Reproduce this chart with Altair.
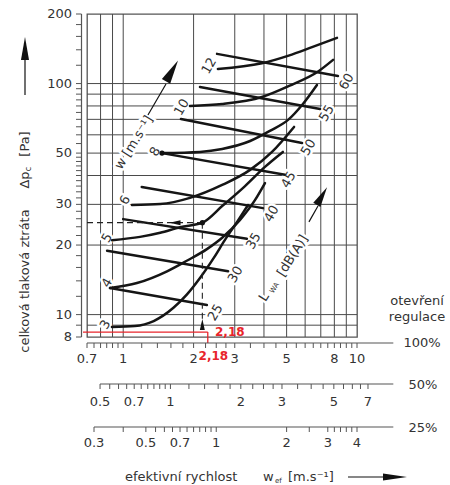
import altair as alt
import pandas as pd

# ------------------------------------------------------------------ data
# constant face-velocity curves w [m.s-1]; x = effective velocity w_ef [m.s-1], y = pressure loss [Pa]
w_names = ["3", "4", "5", "6", "8", "10", "12"]
w3_x = [0.895, 1.12, 1.35, 1.64, 1.87, 2.13, 2.44, 2.72, 3.07, 3.42]
w3_y = [8.84, 8.93, 9.38, 10.7, 12.2, 14.4, 17.6, 21.0, 25.2, 29.8]
w4_x = [0.878, 1.145, 1.54, 1.87, 2.28, 2.65, 3.16, 3.66, 4.04]
w4_y = [13.04, 13.7, 15.4, 17.1, 19.2, 21.5, 25.7, 31.3, 37.1]
w5_x = [0.895, 1.18, 1.44, 1.75, 2.18, 2.65, 3.32, 4.04, 4.82]
w5_y = [21.0, 21.7, 22.6, 23.9, 25.0, 29.5, 36.0, 43.6, 50.6]
w6_x = [1.09, 1.44, 1.93, 2.65, 3.49, 4.33, 5.38]
w6_y = [29.8, 30.1, 32.0, 36.4, 42.3, 50.6, 64.9]
w8_x = [1.465, 2.13, 2.65, 3.49, 4.24, 5.07, 5.87, 6.74]
w8_y = [50.0, 50.6, 52.1, 56.4, 62.4, 69.6, 81.6, 98.6]
w10_x = [1.93, 2.65, 3.92, 5.12, 6.87, 7.9]
w10_y = [80.0, 81.6, 87.5, 97.7, 113.4, 126.6]
w12_x = [2.54, 3.92, 5.10, 6.42, 8.21]
w12_y = [115.7, 122.4, 132.1, 143.7, 157.6]
w_label_x = [0.838, 0.853, 0.853, 1.02, 1.37, 1.78, 2.33]
w_label_y = [9.04, 13.7, 21.5, 31.3, 50.7, 78.9, 119.2]

# sound power lines L_WA [dB(A)] (start and end points)
l_names = ["25", "30", "35", "40", "45", "50", "55", "60"]
l_x0 = [0.878, 0.853, 1.0, 1.2, 1.465, 1.766, 2.13, 2.52]
l_y0 = [13.04, 18.9, 25.9, 35.7, 50.0, 70.2, 96.7, 134.4]
l_x1 = [2.28, 2.81, 3.38, 3.96, 4.92, 5.82, 6.95, 8.29]
l_y1 = [11.0, 15.4, 21.3, 28.9, 40.3, 55.3, 77.6, 107.9]
l_label_x = [2.48, 3.02, 3.61, 4.31, 5.10, 6.2, 7.42, 9.03]
l_label_y = [10.2, 14.9, 20.8, 27.3, 38.3, 52.9, 74.4, 101.9]

# grid
grid_y_vals = [9, 10, 20, 30, 40, 50, 60, 70, 80, 90, 100]
grid_x_vals = [0.8, 0.9, 1, 2, 3, 4, 5, 6, 7, 8, 9]

# y axis
y_tick_vals = [8, 9, 10, 12, 14, 16, 18, 20, 22, 24, 26, 28, 30, 32, 34, 36, 38, 40,
               42, 44, 46, 48, 50, 55, 60, 65, 70, 75, 80, 85, 90, 95, 100,
               120, 140, 160, 180, 200]
y_label_vals = [8, 10, 20, 30, 50, 100, 200]
y_range = [8, 200]

# bottom velocity scales for 100 %, 50 % and 25 % opening
s100_ticks = [0.7, 0.75, 0.8, 0.85, 0.9, 0.95, 1, 1.2, 1.4, 1.6, 1.8, 2, 2.25, 2.5, 2.75,
              3, 3.5, 4, 4.5, 5, 5.5, 6, 6.5, 7, 7.5, 8, 8.5, 9, 9.5, 10]
s100_labels = [0.7, 1, 2, 3, 5, 8, 10]
s50_ticks = [0.5, 0.55, 0.6, 0.65, 0.7, 0.75, 0.8, 0.85, 0.9, 0.95, 1, 1.2, 1.4, 1.6, 1.8,
             2, 2.25, 2.5, 2.75, 3, 3.5, 4, 4.5, 5, 5.5, 6, 6.5, 7]
s50_labels = [0.5, 0.7, 1, 2, 3, 5, 7]
s25_ticks = [0.3, 0.4, 0.5, 0.55, 0.6, 0.65, 0.7, 0.75, 0.8, 0.85, 0.9, 0.95, 1,
             2, 2.5, 3, 3.2, 3.4, 3.6, 3.8, 4]
s25_labels = [0.3, 0.5, 0.7, 1, 2, 3, 4]
k50 = 1.592      # 100 % value per 50 % value
k25 = 2.5        # 100 % value per 25 % value
scale_line_end = 14.3   # scale lines run on past the last tick (100 % units)

# worked example
ex_wef = 2.18
ex_dp = 25.0
ex_arrow_left_x = 1.665
ex_arrow_up_y = 9.07
ex_dash_bottom = 8.7
red_x = 2.3
red_y = 8.4
red_x_left = 0.673
red_y_bottom = 7.53

# ------------------------------------------------------------------ style
FONT = "DejaVu Sans"
INK = "#151515"
GRID = "#4a4a4a"
AX = "#555555"
TXT = "#333333"
RED = "#e8242b"
W, H = 270, 323

xs = alt.Scale(type="log", domain=[0.7, 10], nice=False)
ys = alt.Scale(type="log", domain=[8, 200], nice=False)


def X(f="x"):
    return alt.X(f"{f}:Q", scale=xs, axis=None)


def Y(f="y"):
    return alt.Y(f"{f}:Q", scale=ys, axis=None)


layers = []

# grid
layers.append(alt.Chart(pd.DataFrame({"y": grid_y_vals})).mark_rule(color=GRID, strokeWidth=1)
              .encode(y=Y()))
layers.append(alt.Chart(pd.DataFrame({"x": grid_x_vals})).mark_rule(color=GRID, strokeWidth=1)
              .encode(x=X()))

# y axis (drawn on the y scale, shifted left of the frame)
layers.append(alt.Chart(pd.DataFrame({"y": [y_range[0]], "y2": [y_range[1]]}))
              .mark_rule(color=AX, strokeWidth=1.2)
              .encode(y=Y(), y2="y2:Q", x=alt.value(-5.5)))
layers.append(alt.Chart(pd.DataFrame({"y": y_tick_vals})).mark_rule(color=AX, strokeWidth=1)
              .encode(y=Y(), x=alt.value(-11), x2=alt.value(-5.5)))
layers.append(alt.Chart(pd.DataFrame({"y": y_label_vals}))
              .mark_text(font=FONT, fontSize=13, color=TXT, align="right", baseline="middle")
              .encode(y=Y(), x=alt.value(-15), text=alt.Text("y:Q", format="~g")))

# label tables
lab_rows = [dict(x=a, y=b, t=n) for n, a, b in zip(w_names, w_label_x, w_label_y)]
lab_rows += [dict(x=a, y=b, t=n) for n, a, b in zip(l_names, l_label_x, l_label_y)]
lab_df = pd.DataFrame(lab_rows)
ann_df = pd.DataFrame([
    dict(x=1.11, y=55.6, t="w [m.s\u207b\u00b9]", s=13),
    dict(x=4.0, y=11.9, t="L", s=13),
    dict(x=4.44, y=13.04, t="WA", s=7),
    dict(x=5.30, y=18.0, t="[dB(A)]", s=13),
])

# white halos behind labels (cut grid lines)
layers.append(alt.Chart(lab_df).mark_text(font=FONT, fontSize=13, angle=300, fill="white",
                                          stroke="white", strokeWidth=5, strokeJoin="round")
              .encode(x=X(), y=Y(), text="t:N"))
layers.append(alt.Chart(ann_df).mark_text(font=FONT, angle=302, fill="white",
                                          stroke="white", strokeWidth=5, strokeJoin="round")
              .encode(x=X(), y=Y(), text="t:N", size=alt.Size("s:Q", scale=None)))

# curves
rows = []
for n, cx, cy in zip(w_names, [w3_x, w4_x, w5_x, w6_x, w8_x, w10_x, w12_x],
                     [w3_y, w4_y, w5_y, w6_y, w8_y, w10_y, w12_y]):
    for i, (a, b) in enumerate(zip(cx, cy)):
        rows.append(dict(s="w" + n, i=i, x=a, y=b))
curve_df = pd.DataFrame(rows)
layers.append(alt.Chart(curve_df).mark_line(color=INK, strokeWidth=2.5, interpolate="monotone",
                                            strokeCap="round")
              .encode(x=X(), y=Y(), detail="s:N", order="i:Q"))

lrows = []
for n, a0, b0, a1, b1 in zip(l_names, l_x0, l_y0, l_x1, l_y1):
    lrows.append(dict(s="L" + n, i=0, x=a0, y=b0))
    lrows.append(dict(s="L" + n, i=1, x=a1, y=b1))
layers.append(alt.Chart(pd.DataFrame(lrows)).mark_line(color=INK, strokeWidth=2.5, strokeCap="round")
              .encode(x=X(), y=Y(), detail="s:N", order="i:Q"))

# worked example: dashed lines, arrows, dots
layers.append(alt.Chart(pd.DataFrame({"x": [0.7], "x2": [ex_wef], "y": [ex_dp]}))
              .mark_rule(color="#222", strokeWidth=1.1, strokeDash=[6, 4])
              .encode(x=X(), x2="x2:Q", y=Y()))
layers.append(alt.Chart(pd.DataFrame({"x": [ex_wef], "y": [ex_dp], "y2": [ex_dash_bottom]}))
              .mark_rule(color="#222", strokeWidth=1.1, strokeDash=[6, 4])
              .encode(x=X(), y=Y(), y2="y2:Q"))
layers.append(alt.Chart(pd.DataFrame({"x": [ex_arrow_left_x], "y": [ex_dp]}))
              .mark_point(shape="M-1,0L1,-0.45L1,0.45Z", filled=True, size=121, color="#111", opacity=1)
              .encode(x=X(), y=Y()))
layers.append(alt.Chart(pd.DataFrame({"x": [ex_wef], "y": [ex_arrow_up_y]}))
              .mark_point(shape="M0,-1L0.45,1L-0.45,1Z", filled=True, size=121, color="#111", opacity=1)
              .encode(x=X(), y=Y()))
layers.append(alt.Chart(pd.DataFrame({"x": [1.465, ex_wef], "y": [50.0, ex_dp]}))
              .mark_circle(size=28, color="#111", opacity=1)
              .encode(x=X(), y=Y()))

# direction arrows inside the plot
layers.append(alt.Chart(pd.DataFrame({"x": [1.276, 6.23], "y": [73.1, 25.2],
                                      "x2": [1.524, 6.81], "y2": [99.6, 29.5]}))
              .mark_rule(color="#111", strokeWidth=1.2)
              .encode(x=X(), y=Y(), x2="x2:Q", y2="y2:Q"))
layers.append(alt.Chart(pd.DataFrame({"x": [1.617, 7.08], "y": [113.4, 32.6], "s": [576, 420]}))
              .mark_point(shape="M0,-1L0.4,1L-0.4,1Z", filled=True, angle=30, color="#111", opacity=1)
              .encode(x=X(), y=Y(), size=alt.Size("s:Q", scale=None)))

# labels
layers.append(alt.Chart(lab_df).mark_text(font=FONT, fontSize=13, angle=300, color=TXT)
              .encode(x=X(), y=Y(), text="t:N"))
layers.append(alt.Chart(ann_df).mark_text(font=FONT, angle=302, color=TXT)
              .encode(x=X(), y=Y(), text="t:N", size=alt.Size("s:Q", scale=None)))

# red reading line
layers.append(alt.Chart(pd.DataFrame({"x": [red_x_left], "x2": [red_x], "y": [red_y]}))
              .mark_rule(color=RED, strokeWidth=1.3).encode(x=X(), x2="x2:Q", y=Y()))
layers.append(alt.Chart(pd.DataFrame({"x": [red_x], "y": [red_y], "y2": [red_y_bottom]}))
              .mark_rule(color=RED, strokeWidth=1.3).encode(x=X(), y=Y(), y2="y2:Q"))
layers.append(alt.Chart(pd.DataFrame({"x": [2.47], "y": [red_y], "t": ["2,18"]}))
              .mark_text(font=FONT, fontSize=12, fontWeight="bold", color=RED, align="left")
              .encode(x=X(), y=Y(), text="t:N"))
layers.append(alt.Chart(pd.DataFrame({"x": [2.43], "t": ["2,18"]}))
              .mark_text(font=FONT, fontSize=12, fontWeight="bold", color=RED)
              .encode(x=X(), y=alt.value(342), text="t:N"))


# bottom scales
def scale_row(ticks, labels, k, y_line, y_lab):
    t = pd.DataFrame({"xm": [v * k for v in ticks]})
    lb = pd.DataFrame({"xm": [v * k for v in labels], "v": labels})
    ln = pd.DataFrame({"x0": [ticks[0] * k], "x1": [scale_line_end]})
    return [
        alt.Chart(ln).mark_rule(color=AX, strokeWidth=1.2)
        .encode(x=X("x0"), x2="x1:Q", y=alt.value(y_line)),
        alt.Chart(t).mark_rule(color=AX, strokeWidth=1)
        .encode(x=X("xm"), y=alt.value(y_line), y2=alt.value(y_line + 5)),
        alt.Chart(lb).mark_text(font=FONT, fontSize=13, color=TXT)
        .encode(x=X("xm"), y=alt.value(y_lab), text=alt.Text("v:Q", format="~g")),
    ]


layers += scale_row(s100_ticks, s100_labels, 1.0, 329, 345)
layers += scale_row(s50_ticks, s50_labels, k50, 370, 388)
layers += scale_row(s25_ticks, s25_labels, k25, 413, 429)


def txt(t, x, y, size=13, angle=0, align="center"):
    return (alt.Chart(pd.DataFrame({"t": [t]}))
            .mark_text(font=FONT, fontSize=size, color=TXT, angle=angle, align=align)
            .encode(x=alt.value(x), y=alt.value(y), text="t:N"))


# right side texts
layers += [txt("otevření", 330, 287), txt("regulace", 330, 303),
           txt("100%", 335, 329), txt("50%", 336, 370.5), txt("25%", 336, 413.5)]

# y title (rotated) with arrow
layers += [txt("celková  tlaková  ztráta", -62, 267, angle=270),
           txt("Δp", -62, 166, angle=270),
           txt("c", -58.5, 155, size=8, angle=270),
           txt("[Pa]", -62, 130, angle=270)]
layers.append(alt.Chart(pd.DataFrame({"a": [0]})).mark_rule(color="#111", strokeWidth=1.2)
              .encode(x=alt.value(-62), y=alt.value(81), y2=alt.value(44)))
layers.append(alt.Chart(pd.DataFrame({"a": [0]}))
              .mark_point(shape="M0,-1L0.35,1L-0.35,1Z", filled=True, size=529, color="#111", opacity=1)
              .encode(x=alt.value(-62), y=alt.value(34.5)))

# x title with arrow
layers += [txt("efektivní  rychlost", 38, 463, align="left"),
           txt("w", 176, 463, align="left"),
           txt("ef", 188, 467, size=7, align="left"),
           txt("[m.s\u207b\u00b9]", 201, 463, align="left")]
layers.append(alt.Chart(pd.DataFrame({"a": [0]})).mark_rule(color="#111", strokeWidth=1.2)
              .encode(x=alt.value(261), x2=alt.value(300), y=alt.value(463)))
layers.append(alt.Chart(pd.DataFrame({"a": [0]}))
              .mark_point(shape="M1,0L-1,0.3L-1,-0.3Z", filled=True, size=576, color="#111", opacity=1)
              .encode(x=alt.value(308), y=alt.value(463)))

chart = (alt.layer(*layers)
         .properties(width=W, height=H, background="white",
                     autosize=alt.AutoSizeParams(type="none"),
                     padding={"left": 87, "top": 14, "right": 93, "bottom": 148})
         .configure_view(stroke="#555555", strokeWidth=1.3))

chart.save("out.html", embed_options={"renderer": "svg", "actions": False})
